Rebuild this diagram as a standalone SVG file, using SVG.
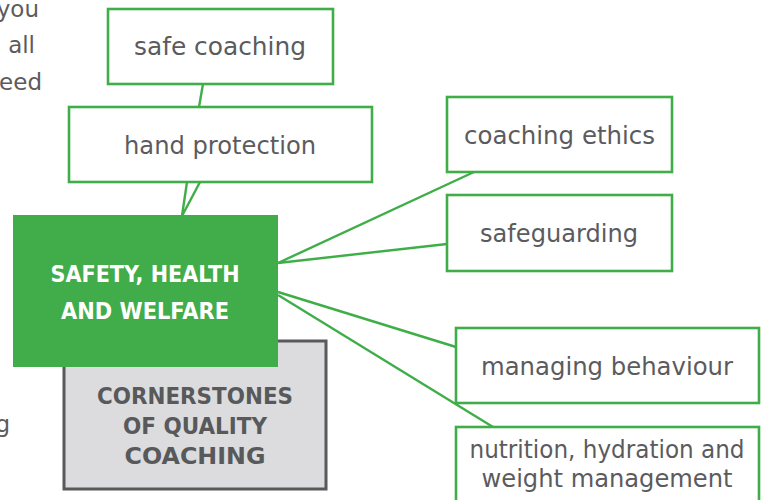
<svg xmlns="http://www.w3.org/2000/svg" width="762" height="500" viewBox="0 0 762 500">
<style>
.box{fill:#ffffff;stroke:#3fae49;stroke-width:2.6}
.lbl{font-family:"DejaVu Sans",Verdana,sans-serif;font-size:24px;fill:#5b5b5e;text-anchor:middle}
.side{font-family:"DejaVu Sans",Verdana,sans-serif;font-size:23px;fill:#5b5b5e;text-anchor:end}
.conn{stroke:#3fae49;stroke-width:2.4;fill:none}
.hb{font-family:"DejaVu Sans",Verdana,sans-serif;font-weight:bold;font-size:23px;text-anchor:middle}
</style>
<rect width="762" height="500" fill="#ffffff"/>
<g id="side-text">
<text class="side" x="39" y="17">you</text>
<text class="side" x="35" y="53">all</text>
<text class="side" x="42" y="90">eed</text>
<text class="side" x="10" y="432">g</text>
</g>
<g id="connectors">
<line class="conn" x1="203" y1="84" x2="199" y2="107"/>
<line class="conn" x1="187" y1="182" x2="182" y2="216"/>
<line class="conn" x1="200" y1="182" x2="182" y2="216"/>
<line class="conn" x1="278" y1="263" x2="474" y2="172"/>
<line class="conn" x1="278" y1="263" x2="447" y2="244"/>
<line class="conn" x1="278" y1="292" x2="456" y2="347"/>
<line class="conn" x1="278" y1="295" x2="493" y2="427"/>
</g>
<g id="cornerstones">
<rect x="64" y="341" width="262" height="148" fill="#dcdcde" stroke="#58595b" stroke-width="3"/>
<text class="hb" fill="#58595b" x="195" y="404" textLength="196" lengthAdjust="spacingAndGlyphs">CORNERSTONES</text>
<text class="hb" fill="#58595b" x="195" y="434" textLength="144" lengthAdjust="spacingAndGlyphs">OF QUALITY</text>
<text class="hb" fill="#58595b" x="195" y="464" textLength="141" lengthAdjust="spacingAndGlyphs">COACHING</text>
</g>
<g id="safety">
<rect x="13" y="215" width="265" height="152" fill="#41ad4a"/>
<text class="hb" fill="#ffffff" x="145" y="282" textLength="189" lengthAdjust="spacingAndGlyphs">SAFETY, HEALTH</text>
<text class="hb" fill="#ffffff" x="145" y="319" textLength="168" lengthAdjust="spacingAndGlyphs">AND WELFARE</text>
</g>
<g id="safe-coaching">
<rect class="box" x="108" y="9" width="225" height="75"/>
<text class="lbl" x="220" y="55" textLength="172" lengthAdjust="spacingAndGlyphs">safe coaching</text>
</g>
<g id="hand-protection">
<rect class="box" x="69" y="107" width="303" height="75"/>
<text class="lbl" x="220" y="154" textLength="192" lengthAdjust="spacingAndGlyphs">hand protection</text>
</g>
<g id="coaching-ethics">
<rect class="box" x="447" y="97" width="225" height="75"/>
<text class="lbl" x="559.5" y="144" textLength="191" lengthAdjust="spacingAndGlyphs">coaching ethics</text>
</g>
<g id="safeguarding">
<rect class="box" x="447" y="195" width="225" height="76"/>
<text class="lbl" x="559" y="242" textLength="158" lengthAdjust="spacingAndGlyphs">safeguarding</text>
</g>
<g id="managing-behaviour">
<rect class="box" x="456" y="328" width="303" height="75"/>
<text class="lbl" x="607" y="375" textLength="252" lengthAdjust="spacingAndGlyphs">managing behaviour</text>
</g>
<g id="nutrition">
<rect class="box" x="456" y="427" width="303" height="80"/>
<text class="lbl" x="607" y="458" textLength="275" lengthAdjust="spacingAndGlyphs">nutrition, hydration and</text>
<text class="lbl" x="607" y="487" textLength="251" lengthAdjust="spacingAndGlyphs">weight management</text>
</g>
</svg>
